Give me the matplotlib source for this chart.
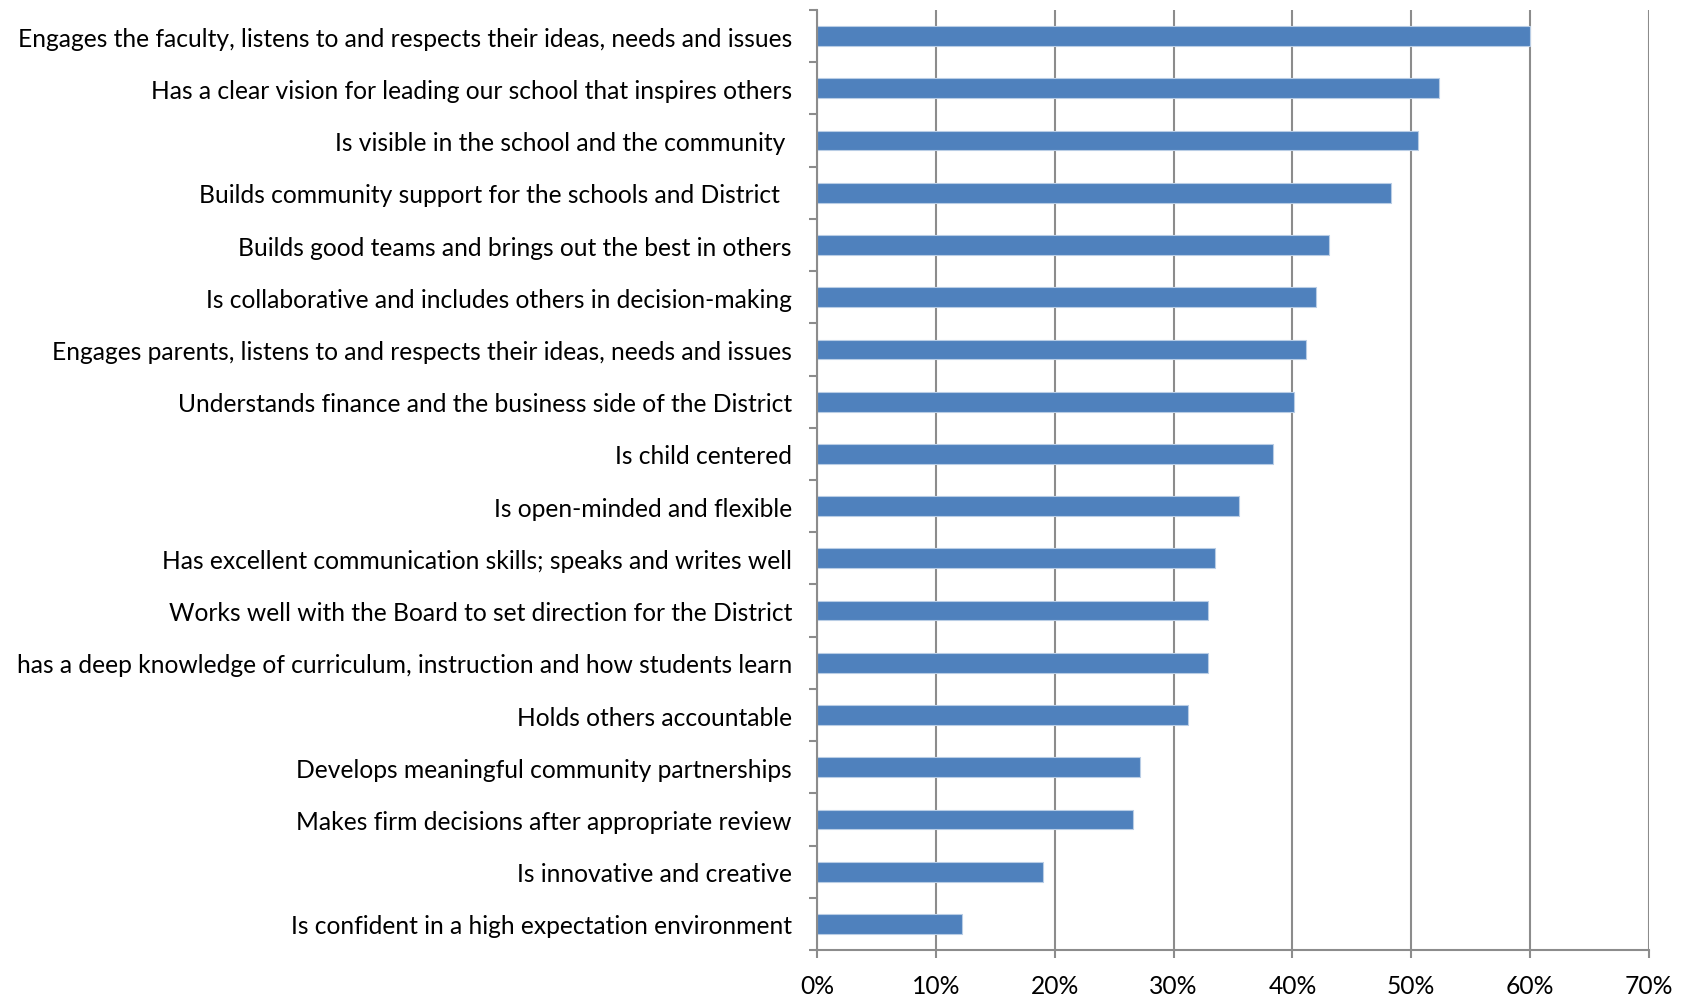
import matplotlib
matplotlib.use("Agg")
import matplotlib.pyplot as plt
import numpy as np
from matplotlib.ticker import FixedLocator, FuncFormatter

categories = [
    "Engages the faculty, listens to and respects their ideas, needs and issues",
    "Has a clear vision for leading our school that inspires others",
    "Is visible in the school and the community ",
    "Builds community support for the schools and District  ",
    "Builds good teams and brings out the best in others",
    "Is collaborative and includes others in decision-making",
    "Engages parents, listens to and respects their ideas, needs and issues",
    "Understands finance and the business side of the District",
    "Is child centered",
    "Is open-minded and flexible",
    "Has excellent communication skills; speaks and writes well",
    "Works well with the Board to set direction for the District",
    "has a deep knowledge of curriculum, instruction and how students learn",
    "Holds others accountable",
    "Develops meaningful community partnerships",
    "Makes firm decisions after appropriate review",
    "Is innovative and creative",
    "Is confident in a high expectation environment",
]
values = [60.0, 52.3, 50.6, 48.3, 43.05, 42.0, 41.1, 40.1, 38.4, 35.5,
          33.5, 32.9, 32.9, 31.2, 27.2, 26.6, 19.0, 12.2]
xticks = [0, 10, 20, 30, 40, 50, 60, 70]

plt.rcParams['font.family'] = ['Lato', 'DejaVu Sans']

fig = plt.figure(figsize=(16.84, 9.95), dpi=100)
ax = fig.add_axes([817/1684, 1 - 951/995, (1649-817)/1684, (951-11)/995])

n = len(categories)
y = np.arange(n)[::-1]
ax.barh(y, values, height=0.38, color='#4F81BD', edgecolor='#B9CDE5', linewidth=0.8, zorder=3)

ax.set_xlim(0, 70)
ax.set_ylim(-0.5, n - 0.5)
ax.set_xticks(xticks)
ax.xaxis.set_major_formatter(FuncFormatter(lambda v, p: f"{int(v)}%"))
ax.set_yticks(y)
ax.set_yticklabels(categories)
ax.yaxis.set_minor_locator(FixedLocator(np.arange(-0.5, n, 1.0)))

gray = '#8C8C8C'
ax.grid(axis='x', color=gray, linewidth=1.5, zorder=0)
for s in ['top', 'right']:
    ax.spines[s].set_visible(False)
for s in ['left', 'bottom']:
    ax.spines[s].set_color(gray)
    ax.spines[s].set_linewidth(1.5)
    ax.spines[s].set_zorder(4)

ax.tick_params(axis='y', which='major', length=0, pad=18, labelsize=17.7)
ax.tick_params(axis='y', which='minor', length=6, width=1.5, color=gray, direction='out')
ax.tick_params(axis='x', which='major', length=6, width=1.5, color=gray, direction='out',
               pad=11, labelsize=17.7)

fig.savefig("out.png", dpi=100)
